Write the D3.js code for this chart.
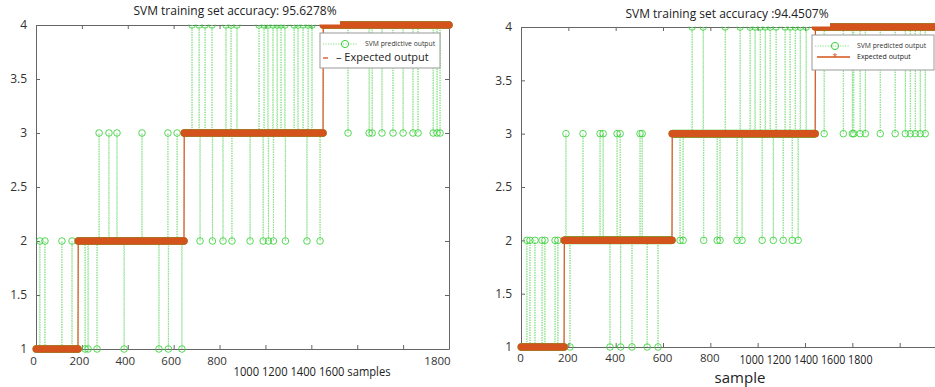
<!DOCTYPE html>
<html><head><meta charset="utf-8">
<script src="https://cdn.jsdelivr.net/npm/d3@7"></script>
<style>body{margin:0;background:#fff}svg{display:block;font-family:"Open Sans","Noto Sans",sans-serif}</style>
</head><body><svg id="c" width="935" height="387"></svg>
<script>
// ---------- data ----------
const nSamples = 1800;
const classes = [1, 2, 3, 4];
const yTicks = [1, 1.5, 2, 2.5, 3, 3.5, 4];
const xTicks = [0, 200, 400, 600, 800, 1000, 1200, 1400, 1600, 1800];

// left chart
const leftTitle = "SVM training set accuracy: 95.6278%";
const leftClassStart = [1, 184, 646, 1252];
const leftClassEnd   = [183, 645, 1251, 1800];
const leftErrSample = [680,711,737,767,828,850,876,972,994,1011,1033,1051,1068,1085,1125,1142,1164,1186,1203,
  275,318,353,462,575,615,
  1360,1452,1465,1508,1556,1600,1643,1665,1731,1748,1761,
  17,39,113,157,
  715,769,815,854,933,990,1013,1035,1087,1181,1238,
  214,227,266,384,536,577,636];
const leftErrPred = [4,4,4,4,4,4,4,4,4,4,4,4,4,4,4,4,4,4,4,
  3,3,3,3,3,3,
  3,3,3,3,3,3,3,3,3,3,3,
  2,2,2,2,
  2,2,2,2,2,2,2,2,2,2,2,
  1,1,1,1,1,1,1];
const leftXTickLabels = ["0","200","400","600","800","","","","","1800"];
const leftXExtra = "1000 1200 1400 1600 samples";
const leftLegend = ["SVM predictive output", "– Expected output"];

// right chart
const rightTitle = "SVM training set accuracy :94.4507%";
const rightClassStart = [1, 183, 639, 1244];
const rightClassEnd   = [182, 638, 1243, 1800];
const rightErrSample = [723,770,863,926,968,989,1011,1032,1053,1078,1116,1137,1159,1180,1205,
  190,262,334,347,406,419,503,512,
  1281,1362,1400,1406,1433,1455,1518,1581,1624,1645,1666,1687,1708,
  25,38,59,89,101,144,156,
  672,685,772,829,841,913,934,1019,1066,1108,1146,1171,
  207,376,421,469,533,579];
const rightErrPred = [4,4,4,4,4,4,4,4,4,4,4,4,4,4,4,
  3,3,3,3,3,3,3,3,
  3,3,3,3,3,3,3,3,3,3,3,3,3,
  2,2,2,2,2,2,2,
  2,2,2,2,2,2,2,2,2,2,2,2,
  1,1,1,1,1,1];
const rightXTickLabels = ["0","200","400","600","800","","","","",""];
const rightXExtra = "1000 1200 1400 1600 1800";
const rightXTitle = "sample";
const rightLegend = ["SVM predicted output", "Expected output"];

// ---------- drawing ----------
const GREEN = "#38d038", GREEN_L = "#86e086", ORANGE = "#d4531c";
const svg = d3.select("#c");

function buildSeries(starts, ends, errS, errP) {
  const expected = [], predicted = [];
  const errMap = new Map(errS.map((s, i) => [s, errP[i]]));
  for (let c = 0; c < classes.length; c++) {
    for (let s = starts[c]; s <= ends[c]; s++) {
      expected.push({s, v: classes[c]});
      predicted.push({s, v: errMap.has(s) ? errMap.get(s) : classes[c]});
    }
  }
  return {expected, predicted};
}

function drawChart(o) {
  const g = svg.append("g");
  const x = d3.scaleLinear().domain([0, nSamples]).range([o.left, o.right]);
  const y = d3.scaleLinear().domain([1, 4]).range([o.bottom, o.top]);
  const {expected, predicted} = buildSeries(o.starts, o.ends, o.errS, o.errP);

  // axes
  g.append("g").attr("transform", `translate(${o.left},0)`)
    .call(d3.axisLeft(y).tickValues(yTicks).tickSizeInner(-4).tickSizeOuter(0).tickPadding(9)
      .tickFormat(d3.format("")));
  const axB = g.append("g").attr("transform", `translate(0,${o.bottom})`)
    .call(d3.axisBottom(x).tickValues(xTicks).tickSizeInner(-4).tickSizeOuter(0).tickPadding(o.xPad)
      .tickFormat((d, i) => o.xLabels[i]));
  g.append("g").attr("transform", `translate(0,${o.top})`)
    .call(d3.axisTop(x).tickValues(xTicks).tickSizeInner(-4).tickSizeOuter(0).tickFormat(""));
  g.append("g").attr("transform", `translate(${o.right},0)`)
    .call(d3.axisRight(y).tickValues(yTicks).tickSizeInner(-4).tickSizeOuter(0).tickFormat(""));
  g.selectAll(".domain").attr("stroke", "#666");
  g.selectAll(".tick line").attr("stroke", "#666");
  g.selectAll(".tick text").attr("fill", "#333").attr("font-size", 12)
    .attr("font-family", '"Open Sans","Noto Sans",sans-serif');
  axB.selectAll(".tick text").attr("font-size", 11.5).attr("dx", o.xDx);
  if (o.lastDx) axB.selectAll(".tick text").filter((d) => d === 1800).attr("dx", o.lastDx);

  // predicted: dotted line + circles
  const line = d3.line().x(d => x(d.s)).y(d => y(d.v));
  g.append("path").datum(predicted).attr("d", line).attr("fill", "none")
    .attr("stroke", GREEN_L).attr("stroke-width", 1).attr("stroke-dasharray", "1.2,1.3");
  g.append("g").selectAll("circle").data(predicted).join("circle")
    .attr("cx", d => x(d.s)).attr("cy", d => y(d.v)).attr("r", 3.3)
    .attr("fill", "none").attr("stroke", GREEN).attr("stroke-width", 1).attr("stroke-opacity", 0.85);

  // expected: thin step line + thick marker band per class
  g.append("path").datum(expected).attr("d", line).attr("fill", "none")
    .attr("stroke", ORANGE).attr("stroke-width", 1.2);
  g.append("g").selectAll("line").data(classes).join("line")
    .attr("x1", (c, i) => x(o.starts[i])).attr("x2", (c, i) => x(o.ends[i]))
    .attr("y1", c => y(c)).attr("y2", c => y(c))
    .attr("stroke", ORANGE).attr("stroke-width", 7.5).attr("stroke-linecap", "round");

  // white patch behind title
  g.append("rect").attr("x", o.patch[0]).attr("y", 0).attr("width", o.patch[1] - o.patch[0])
    .attr("height", o.top - 0.5).attr("fill", "#fff");
  g.append("text").attr("x", o.titleX).attr("y", o.titleY).attr("text-anchor", "middle")
    .attr("dominant-baseline", "middle").attr("font-size", 12).attr("fill", "#222").text(o.title);

  // extra x texts
  o.extras.forEach(e => {
    const t = g.append("text").attr("x", e.x).attr("y", e.y).attr("text-anchor", "middle")
      .attr("dominant-baseline", "middle").attr("font-size", e.size).attr("fill", "#222").text(e.text);
    if (e.len) t.attr("textLength", e.len).attr("lengthAdjust", "spacingAndGlyphs");
  });

  // legend
  const L = o.legend;
  g.append("rect").attr("x", L.x).attr("y", L.y).attr("width", L.w).attr("height", L.h)
    .attr("fill", "#fff").attr("stroke", "#999").attr("stroke-width", 1);
  g.append("line").attr("x1", L.x + 3).attr("x2", L.x + 38).attr("y1", L.y + 11).attr("y2", L.y + 11)
    .attr("stroke", GREEN_L).attr("stroke-dasharray", "1.2,1.3");
  g.append("circle").attr("cx", L.x + L.cx).attr("cy", L.y + 11).attr("r", 3.6)
    .attr("fill", "none").attr("stroke", GREEN).attr("stroke-width", 1);
  g.append("text").attr("x", L.x + L.tx).attr("y", L.y + 11).attr("dominant-baseline", "middle")
    .attr("font-size", 6.8).attr("fill", "#333").text(o.legendText[0]);
  g.append("line").attr("x1", L.x + L.ox1).attr("x2", L.x + L.ox2).attr("y1", L.y + L.oy).attr("y2", L.y + L.oy)
    .attr("stroke", ORANGE).attr("stroke-width", 1.3);
  if (L.star) {
    g.append("text").attr("x", L.x + L.cx).attr("y", L.y + L.oy + 3).attr("text-anchor", "middle")
      .attr("font-size", 9).attr("fill", ORANGE).text("*");
  }
  g.append("text").attr("x", L.x + L.t2x).attr("y", L.y + L.oy).attr("dominant-baseline", "middle")
    .attr("font-size", L.t2size).attr("fill", "#222").text(o.legendText[1]);
}

drawChart({
  id: "L", left: 36, right: 449, top: 25, bottom: 349,
  starts: leftClassStart, ends: leftClassEnd, errS: leftErrSample, errP: leftErrPred,
  xLabels: leftXTickLabels, xPad: 8, xDx: -3, lastDx: -12,
  title: leftTitle, titleX: 235, titleY: 12, patch: [143, 340],
  extras: [{text: leftXExtra, x: 312, y: 373, size: 12.5, len: 157}],
  legend: {x: 320, y: 33, w: 120, h: 35, cx: 25, tx: 45, ox1: 3, ox2: 8, oy: 25, t2x: 16, t2size: 11},
  legendText: leftLegend
});

drawChart({
  id: "R", left: 521, right: 947, top: 27, bottom: 347,
  starts: rightClassStart, ends: rightClassEnd, errS: rightErrSample, errP: rightErrPred,
  xLabels: rightXTickLabels, xPad: 7, xDx: -1,
  title: rightTitle, titleX: 727, titleY: 15, patch: [670, 830],
  extras: [{text: rightXExtra, x: 806, y: 361, size: 12, len: 133}, {text: rightXTitle, x: 740, y: 379, size: 15}],
  legend: {x: 812, y: 35, w: 122, h: 35, cx: 23, tx: 45, ox1: 5, ox2: 38, oy: 22, t2x: 45, t2size: 7, star: true},
  legendText: rightLegend
});
</script></body></html>
